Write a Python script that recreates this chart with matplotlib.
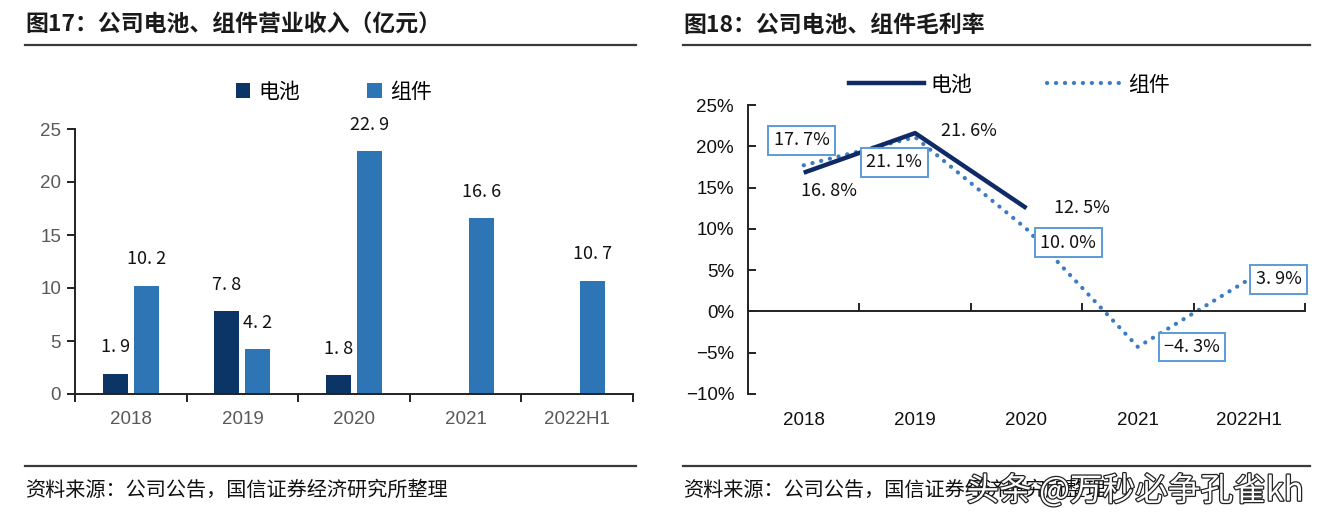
import matplotlib
matplotlib.use("Agg")
import matplotlib.pyplot as plt
import matplotlib.transforms as mtransforms
import matplotlib.patheffects as pe
from matplotlib.patches import Patch
from matplotlib.lines import Line2D
import numpy as np

plt.rcParams['font.family'] = ['Noto Sans CJK SC', 'DejaVu Sans']
plt.rcParams['axes.unicode_minus'] = True

# ---------------- data ----------------
categories = ["2018", "2019", "2020", "2021", "2022H1"]
rev_battery = [1.9, 7.8, 1.8, None, None]
rev_module = [10.2, 4.2, 22.9, 16.6, 10.7]
rev_yticks = [0, 5, 10, 15, 20, 25]

gm_battery = [16.8, 21.6, 12.5, None, None]
gm_module = [17.7, 21.1, 10.0, -4.3, 3.9]
gm_yticks = [-10, -5, 0, 5, 10, 15, 20, 25]

title_left = "图17：公司电池、组件营业收入（亿元）"
title_right = "图18：公司电池、组件毛利率"
source_text = "资料来源：公司公告，国信证券经济研究所整理"
legend_names = ["电池", "组件"]
watermark = "头条 @万秒必争孔雀kh"

# ---------------- style ----------------
C_DARK = "#0b3566"
C_BLUE = "#2e75b6"
C_NAVY = "#102a68"
C_DOT = "#3b7cc4"
C_BOX = "#5b9bd5"
TICK_FONT = ['Liberation Sans', 'DejaVu Sans']
LABEL_FONT = ['Noto Sans CJK SC', 'DejaVu Sans']

W, H = 1324, 527
fig = plt.figure(figsize=(W / 100, H / 100), dpi=100)


def fx(px):
    return px / W


def fy(py):
    return 1 - py / H


def fmt_val(v, pct=False):
    s = f"{abs(v):.1f}".replace('.', '. ')
    if v < 0:
        s = "\u2212" + s
    return s + ("%" if pct else "")


# decorations: titles, rules, sources
for x0, x1, title in [(25, 636, title_left), (683, 1310, title_right)]:
    fig.text(fx(x0), fy(25), title, fontsize=16.5, fontweight='bold',
             ha='left', va='center', color='#1a1a1a')
    fig.add_artist(Line2D([fx(x0), fx(x1)], [fy(45), fy(45)],
                          color='#3a3a3a', lw=1.6))
    fig.add_artist(Line2D([fx(x0), fx(x1)], [fy(466), fy(466)],
                          color='#3a3a3a', lw=1.6))
    fig.text(fx(x0), fy(490), source_text, fontsize=14.5,
             ha='left', va='center', color='#111111')

# ---------------- left chart ----------------
axL = fig.add_axes([fx(75), fy(394), fx(633) - fx(75), fy(129) - fy(394)])
x = np.arange(len(categories))
bw = 0.224
off = 0.139
for i, v in enumerate(rev_battery):
    if v is None:
        continue
    axL.bar(x[i] - off, v, width=bw, color=C_DARK)
    axL.annotate(fmt_val(v), (x[i] - off, v), xytext=(0, 19),
                 textcoords='offset points', ha='center', va='center',
                 fontsize=13, family=LABEL_FONT, color='#111111')
for i, v in enumerate(rev_module):
    axL.bar(x[i] + off, v, width=bw, color=C_BLUE)
    axL.annotate(fmt_val(v), (x[i] + off, v), xytext=(0, 19),
                 textcoords='offset points', ha='center', va='center',
                 fontsize=13, family=LABEL_FONT, color='#111111')

axL.set_xlim(-0.5, len(categories) - 0.5)
axL.set_ylim(0, 25)
axL.set_yticks(rev_yticks)
axL.set_yticklabels([str(t) for t in rev_yticks], family=TICK_FONT,
                    fontsize=13.5, color='#595959')
axL.set_xticks(np.arange(len(categories) + 1) - 0.5)
axL.set_xticklabels([])
axL.set_xticks(x, minor=True)
axL.set_xticklabels(categories, minor=True, family=TICK_FONT,
                    fontsize=13.5, color='#595959')
axL.tick_params(axis='x', which='major', direction='out', length=6,
                width=1.4, color='#222222')
axL.tick_params(axis='x', which='minor', length=0, pad=12)
axL.tick_params(axis='y', direction='out', length=6, width=1.4,
                color='#222222', pad=4)
for s in ['top', 'right']:
    axL.spines[s].set_visible(False)
for s in ['left', 'bottom']:
    axL.spines[s].set_linewidth(1.4)
    axL.spines[s].set_color('#222222')

handlesL = [Patch(facecolor=C_DARK), Patch(facecolor=C_BLUE)]
axL.legend(handlesL, legend_names, loc='center', bbox_to_anchor=(0.464, 1.14),
           ncol=2, frameon=False, fontsize=15, handlelength=0.7,
           handleheight=0.7, handletextpad=0.4, columnspacing=3.2)

# ---------------- right chart ----------------
axR = fig.add_axes([fx(748), fy(394), fx(1305) - fx(748), fy(105) - fy(394)])
xb = [i for i, v in enumerate(gm_battery) if v is not None]
yb = [v for v in gm_battery if v is not None]
axR.plot(xb, yb, color=C_NAVY, lw=3.2, solid_capstyle='butt', zorder=3)
axR.plot(x, gm_module, color=C_DOT, lw=3.0, linestyle=(0, (0.05, 2.1)),
         dash_capstyle='round', zorder=2)

battery_offsets = [(18, -13), (39, 1.5), (40, 0)]
for i, v in enumerate(gm_battery):
    if v is None:
        continue
    dx, dy = battery_offsets[i]
    axR.annotate(fmt_val(v, True), (i, v), xytext=(dx, dy),
                 textcoords='offset points', ha='center', va='center',
                 fontsize=13, family=LABEL_FONT, color='#111111')

module_offsets = [(-1.5, 18), (-15, -18), (30, -10), (39, 0), (21, 0)]
for i, v in enumerate(gm_module):
    dx, dy = module_offsets[i]
    axR.annotate(fmt_val(v, True), (i, v), xytext=(dx, dy),
                 textcoords='offset points', ha='center', va='center',
                 fontsize=13, family=LABEL_FONT, color='#111111', zorder=5,
                 bbox=dict(boxstyle='square,pad=0.3', fc='white',
                           ec=C_BOX, lw=1.4))

axR.set_xlim(-0.5, len(categories) - 0.5)
axR.set_ylim(-10, 25)
axR.set_yticks(gm_yticks)
axR.set_yticklabels([(("\u2212" if t < 0 else "") + f"{abs(t)}%") for t in gm_yticks],
                    family=TICK_FONT, fontsize=13.5, color='#111111')
axR.set_xticks(np.arange(len(categories) + 1) - 0.5)
axR.set_xticklabels([])
axR.tick_params(axis='x', direction='in', length=6, width=1.4, color='#222222')
axR.tick_params(axis='y', direction='in', length=6, width=1.4,
                color='#222222', pad=10)
axR.spines['bottom'].set_position(('data', 0))
for s in ['top', 'right']:
    axR.spines[s].set_visible(False)
for s in ['left', 'bottom']:
    axR.spines[s].set_linewidth(1.4)
    axR.spines[s].set_color('#222222')

trans = mtransforms.blended_transform_factory(axR.transData, axR.transAxes)
for i, c in enumerate(categories):
    axR.annotate(c, (i, 0), xycoords=trans, xytext=(0, -19),
                 textcoords='offset points', ha='center', va='center',
                 family=TICK_FONT, fontsize=13.5, color='#111111')

handlesR = [Line2D([], [], color=C_NAVY, lw=3.2),
            Line2D([], [], color=C_DOT, lw=3.0, linestyle=(0, (0.05, 2.1)),
                   dash_capstyle='round')]
axR.legend(handlesR, legend_names, loc='center', bbox_to_anchor=(0.47, 1.07),
           ncol=2, frameon=False, fontsize=15, handlelength=3.6,
           handletextpad=0.3, columnspacing=3.6)

# watermark
fig.text(fx(1135), fy(491), watermark, fontsize=23.5, ha='center', va='center',
         color='white',
         path_effects=[pe.withStroke(linewidth=1.8, foreground='#222222')])

fig.savefig("out.png", dpi=100)
